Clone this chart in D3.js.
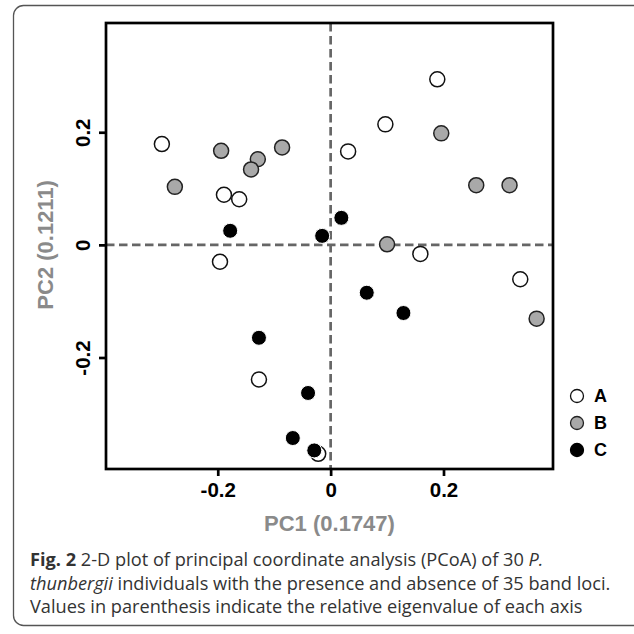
<!DOCTYPE html>
<html>
<head>
<meta charset="utf-8">
<script src="https://cdn.jsdelivr.net/npm/d3@7"></script>
<style>
  body { margin: 0; background: #fff; }
  text { font-family: "Liberation Sans", Arial, sans-serif; }
  .caption { font-family: "Open Sans", sans-serif; fill: #333; }
</style>
</head>
<body>
<script>
// data: PC1 and PC2 per individual, by group
var groupA = [[-0.299, 0.179], [-0.189, 0.089], [-0.162, 0.081], [0.189, 0.294],
              [0.097, 0.214], [0.031, 0.166], [0.159, -0.016], [0.336, -0.061],
              [-0.196, -0.030], [-0.127, -0.239], [-0.022, -0.371]];
var groupB = [[-0.194, 0.167], [-0.086, 0.173], [-0.129, 0.152], [-0.141, 0.134],
              [-0.276, 0.103], [0.196, 0.198], [0.258, 0.106], [0.317, 0.106],
              [0.100, 0.001], [0.365, -0.131]];
var groupC = [[-0.178, 0.025], [-0.015, 0.016], [0.019, 0.048], [0.064, -0.085],
              [0.129, -0.121], [-0.127, -0.165], [-0.040, -0.263], [-0.067, -0.343],
              [-0.029, -0.365]];
var groupNames = ["A", "B", "C"];
var tickValues = [-0.2, 0, 0.2];
var tickLabels = ["-0.2", "0", "0.2"];
var xTitle = "PC1 (0.1747)",
    yTitle = "PC2 (0.1211)";

// set up variables
var canvasWidth = 634,
    canvasHeight = 634,
    plot = {left: 106, right: 553, top: 23, bottom: 469};

var styles = {
    A: {fill: "#fff", stroke: "#111", width: 1.5},
    B: {fill: "#a9a9a9", stroke: "#222", width: 1.5},
    C: {fill: "#000", stroke: "#fff", width: 1}
};

var figure = d3.select("body")
    .append("svg")
        .attr("width", canvasWidth)
        .attr("height", canvasHeight);

// card outline round the whole figure
figure.append("rect")
    .attr("x", 13.5)
    .attr("y", 5.5)
    .attr("width", 640)
    .attr("height", 620)
    .attr("rx", 10)
    .attr("fill", "none")
    .attr("stroke", "#555")
    .attr("stroke-width", 1.3);

var x = d3.scaleLinear()
    .domain([-0.398, 0.394])
    .range([plot.left, plot.right]);
var y = d3.scaleLinear()
    .domain([-0.398, 0.394])
    .range([plot.bottom, plot.top]);

// dashed zero lines
figure.append("line")
    .attr("x1", x.range()[0]).attr("x2", x.range()[1])
    .attr("y1", y(0)).attr("y2", y(0))
    .attr("stroke", "#666").attr("stroke-width", 2.7)
    .attr("stroke-dasharray", "8.5,4.5");
figure.append("line")
    .attr("x1", x(0)).attr("x2", x(0))
    .attr("y1", y.range()[1]).attr("y2", y.range()[0])
    .attr("stroke", "#666").attr("stroke-width", 2.7)
    .attr("stroke-dasharray", "8.5,4.5");

// frame
figure.append("rect")
    .attr("x", plot.left)
    .attr("y", plot.top)
    .attr("width", plot.right - plot.left)
    .attr("height", plot.bottom - plot.top)
    .attr("fill", "none")
    .attr("stroke", "#000")
    .attr("stroke-width", 2.7);

// axes
var xAxis = figure.append("g")
    .attr("class", "axis")
    .attr("transform", "translate(0, " + plot.bottom + ")")
    .call(d3.axisBottom(x)
        .tickValues(tickValues)
        .tickFormat(function(d, i) { return tickLabels[i]; })
        .tickSize(7)
        .tickPadding(6));
xAxis.select(".domain").remove();
xAxis.selectAll(".tick line").attr("stroke", "#000").attr("stroke-width", 2.7);
xAxis.selectAll(".tick text")
    .attr("font-size", 20.5).attr("font-weight", "bold").attr("fill", "#000")
    .attr("font-family", "Liberation Sans, Arial, sans-serif");

var yAxis = figure.append("g")
    .attr("class", "axis")
    .attr("transform", "translate(" + plot.left + ", 0)")
    .call(d3.axisLeft(y)
        .tickValues(tickValues)
        .tickFormat(function(d, i) { return tickLabels[i]; })
        .tickSize(7));
yAxis.select(".domain").remove();
yAxis.selectAll(".tick line").attr("stroke", "#000").attr("stroke-width", 2.7);
yAxis.selectAll(".tick text")
    .attr("font-size", 20.5).attr("font-weight", "bold").attr("fill", "#000")
    .attr("font-family", "Liberation Sans, Arial, sans-serif")
    .attr("x", null).attr("dy", null)
    .attr("text-anchor", "middle")
    .attr("dominant-baseline", "central")
    .attr("transform", "translate(-24, 0) rotate(-90)");

// axis titles
figure.append("text")
    .attr("text-anchor", "middle")
    .attr("x", (plot.left + plot.right) / 2)
    .attr("y", 531)
    .attr("font-size", 22).attr("font-weight", "bold").attr("fill", "#8a8a8a")
    .text(xTitle);
figure.append("text")
    .attr("text-anchor", "middle")
    .attr("dominant-baseline", "central")
    .attr("transform", "translate(45, " + y(0) + ") rotate(-90)")
    .attr("font-size", 22).attr("font-weight", "bold").attr("fill", "#8a8a8a")
    .text(yTitle);

// add the points
[groupA, groupB, groupC].forEach(function(data, k) {
    var s = styles[groupNames[k]];
    figure.append("g")
        .attr("class", "circles")
        .selectAll("circle")
        .data(data)
        .enter()
        .append("circle")
        .attr("r", 7.5)
        .attr("cx", function(d) { return x(d[0]); })
        .attr("cy", function(d) { return y(d[1]); })
        .attr("fill", s.fill)
        .attr("stroke", s.stroke)
        .attr("stroke-width", s.width);
});

// legend
var legend = figure.append("g")
    .attr("transform", "translate(577, 396)")
    .selectAll("g")
    .data(groupNames)
    .enter()
    .append("g")
    .attr("transform", function(d, i) { return "translate(0, " + (i * 27) + ")"; });
legend.append("circle")
    .attr("r", 6.5)
    .attr("fill", function(d) { return styles[d].fill; })
    .attr("stroke", function(d) { return d === "C" ? "#000" : styles[d].stroke; })
    .attr("stroke-width", 1.3);
legend.append("text")
    .attr("x", 17)
    .attr("dy", "0.36em")
    .attr("font-size", 18).attr("font-weight", "bold")
    .text(function(d) { return d; });

// caption
var caption = figure.append("text")
    .attr("class", "caption")
    .attr("font-size", 18.2);
var line1 = caption.append("tspan").attr("x", 30).attr("y", 566);
line1.append("tspan").attr("font-weight", "bold").text("Fig. 2");
line1.append("tspan").text(" 2-D plot of principal coordinate analysis (PCoA) of 30 ");
line1.append("tspan").attr("font-style", "italic").text("P.");
var line2 = caption.append("tspan").attr("x", 30).attr("y", 590);
line2.append("tspan").attr("font-style", "italic").text("thunbergii");
line2.append("tspan").text(" individuals with the presence and absence of 35 band loci.");
caption.append("tspan").attr("x", 30).attr("y", 613)
    .text("Values in parenthesis indicate the relative eigenvalue of each axis");
</script>
</body>
</html>
